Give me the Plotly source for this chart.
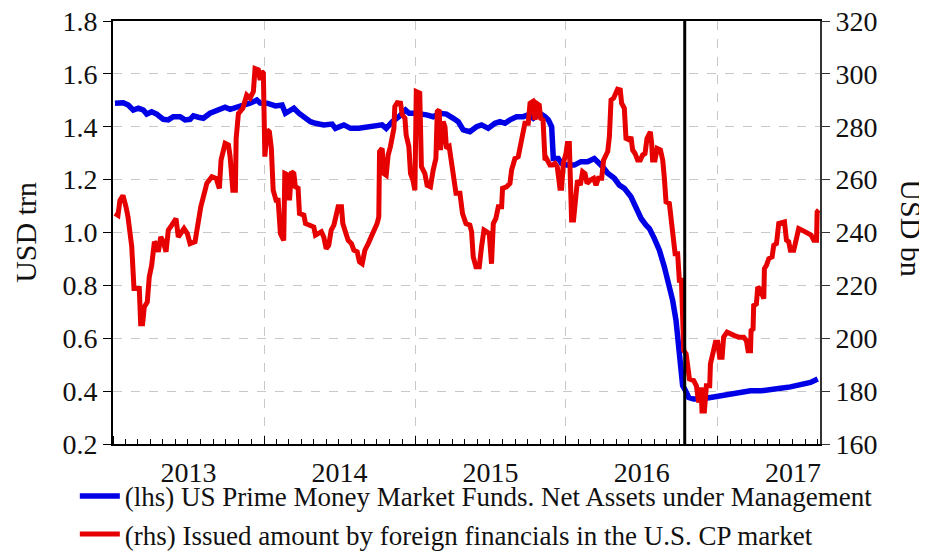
import pandas as pd
import plotly.graph_objects as go

# positions given as decimal years, values per series
blue_t = [2013.013, 2013.068, 2013.101, 2013.134, 2013.168, 2013.201, 2013.223, 2013.256, 2013.289, 2013.333,
          2013.366, 2013.399, 2013.444, 2013.477, 2013.510, 2013.532, 2013.565, 2013.598, 2013.642, 2013.687,
          2013.742, 2013.775, 2013.819, 2013.863, 2013.907, 2013.952, 2013.974, 2014.020, 2014.075, 2014.119,
          2014.141, 2014.197, 2014.230, 2014.263, 2014.307, 2014.340, 2014.395, 2014.450, 2014.472, 2014.528,
          2014.572, 2014.627, 2014.693, 2014.737, 2014.781, 2014.808, 2014.848, 2014.892, 2014.936, 2014.960,
          2015.002, 2015.075, 2015.119, 2015.164, 2015.207, 2015.252, 2015.285, 2015.318, 2015.362, 2015.406,
          2015.439, 2015.483, 2015.528, 2015.561, 2015.594, 2015.627, 2015.671, 2015.715, 2015.748, 2015.781,
          2015.826, 2015.859, 2015.881, 2015.903, 2015.914, 2015.947, 2015.969, 2016.002, 2016.053, 2016.097,
          2016.141, 2016.185, 2016.207, 2016.240, 2016.274, 2016.318, 2016.351, 2016.384, 2016.428, 2016.462,
          2016.495, 2016.528, 2016.550, 2016.583, 2016.616, 2016.649, 2016.682, 2016.704, 2016.726, 2016.742,
          2016.760, 2016.770, 2016.786, 2016.810, 2016.843, 2016.887, 2016.954, 2017.020, 2017.086, 2017.152,
          2017.219, 2017.285, 2017.351, 2017.417, 2017.483, 2017.550, 2017.616, 2017.664]
blue_v = [1.489, 1.491, 1.482, 1.463, 1.470, 1.463, 1.448, 1.457, 1.448, 1.428,
          1.426, 1.438, 1.438, 1.426, 1.428, 1.441, 1.436, 1.432, 1.451, 1.461,
          1.474, 1.466, 1.476, 1.482, 1.489, 1.501, 1.490, 1.489, 1.479, 1.482,
          1.451, 1.470, 1.451, 1.438, 1.419, 1.413, 1.407, 1.410, 1.394, 1.407,
          1.394, 1.394, 1.400, 1.400, 1.407, 1.394, 1.419, 1.438, 1.463, 1.451,
          1.451, 1.445, 1.438, 1.451, 1.448, 1.432, 1.419, 1.388, 1.381, 1.400,
          1.407, 1.394, 1.413, 1.419, 1.413, 1.426, 1.438, 1.438, 1.445, 1.432,
          1.451, 1.438, 1.426, 1.400, 1.280, 1.280, 1.261, 1.255, 1.255, 1.268,
          1.268, 1.280, 1.268, 1.249, 1.224, 1.205, 1.179, 1.167, 1.135, 1.097,
          1.053, 1.028, 1.015, 0.977, 0.933, 0.870, 0.794, 0.743, 0.668, 0.579,
          0.491, 0.421, 0.405, 0.376, 0.370, 0.370, 0.376, 0.382, 0.391, 0.399,
          0.401, 0.401, 0.408, 0.411, 0.416, 0.424, 0.433, 0.446]

red_t = [2013.013, 2013.033, 2013.046, 2013.066, 2013.086, 2013.099, 2013.124, 2013.139, 2013.174, 2013.183,
         2013.196, 2013.207, 2013.227, 2013.240, 2013.256, 2013.274, 2013.289, 2013.300, 2013.316, 2013.333,
         2013.351, 2013.366, 2013.389, 2013.417, 2013.432, 2013.470, 2013.492, 2013.510, 2013.543, 2013.558,
         2013.581, 2013.598, 2013.621, 2013.654, 2013.682, 2013.704, 2013.715, 2013.742, 2013.764, 2013.775,
         2013.793, 2013.810, 2013.815, 2013.830, 2013.859, 2013.885, 2013.907, 2013.929, 2013.940, 2013.962,
         2013.974, 2013.985, 2013.995, 2014.005, 2014.020, 2014.035, 2014.048, 2014.060, 2014.079, 2014.093,
         2014.108, 2014.130, 2014.137, 2014.159, 2014.168, 2014.181, 2014.197, 2014.207, 2014.225, 2014.234,
         2014.263, 2014.274, 2014.307, 2014.329, 2014.340, 2014.362, 2014.379, 2014.395, 2014.411, 2014.428,
         2014.444, 2014.462, 2014.477, 2014.490, 2014.512, 2014.521, 2014.538, 2014.556, 2014.578, 2014.594,
         2014.616, 2014.631, 2014.649, 2014.667, 2014.689, 2014.704, 2014.726, 2014.748, 2014.759, 2014.764,
         2014.781, 2014.793, 2014.808, 2014.821, 2014.836, 2014.848, 2014.859, 2014.865, 2014.881, 2014.903,
         2014.914, 2014.932, 2014.940, 2014.958, 2014.969, 2014.985, 2014.998, 2015.007, 2015.030, 2015.041,
         2015.064, 2015.079, 2015.101, 2015.119, 2015.137, 2015.146, 2015.159, 2015.167, 2015.185, 2015.197,
         2015.207, 2015.225, 2015.247, 2015.270, 2015.296, 2015.313, 2015.336, 2015.362, 2015.373, 2015.384,
         2015.402, 2015.424, 2015.439, 2015.455, 2015.472, 2015.490, 2015.505, 2015.517, 2015.534, 2015.550,
         2015.572, 2015.578, 2015.605, 2015.627, 2015.638, 2015.660, 2015.682, 2015.693, 2015.711, 2015.726,
         2015.748, 2015.760, 2015.777, 2015.793, 2015.803, 2015.821, 2015.830, 2015.846, 2015.859, 2015.869,
         2015.892, 2015.909, 2015.925, 2015.940, 2015.958, 2015.969, 2015.980, 2015.998, 2016.007, 2016.020,
         2016.035, 2016.048, 2016.064, 2016.074, 2016.093, 2016.108, 2016.124, 2016.137, 2016.159, 2016.181,
         2016.197, 2016.212, 2016.234, 2016.247, 2016.263, 2016.274, 2016.285, 2016.296, 2016.313, 2016.329,
         2016.339, 2016.357, 2016.366, 2016.384, 2016.395, 2016.417, 2016.428, 2016.439, 2016.455, 2016.472,
         2016.490, 2016.505, 2016.521, 2016.534, 2016.556, 2016.565, 2016.571, 2016.587, 2016.601, 2016.623,
         2016.638, 2016.649, 2016.660, 2016.682, 2016.693, 2016.711, 2016.720, 2016.737, 2016.748, 2016.762,
         2016.770, 2016.777, 2016.793, 2016.803, 2016.815, 2016.843, 2016.861, 2016.876, 2016.892, 2016.898,
         2016.914, 2016.927, 2016.949, 2016.954, 2016.971, 2016.987, 2017.002, 2017.015, 2017.031, 2017.041,
         2017.064, 2017.086, 2017.113, 2017.141, 2017.174, 2017.192, 2017.203, 2017.219, 2017.223, 2017.236,
         2017.240, 2017.258, 2017.267, 2017.280, 2017.296, 2017.307, 2017.311, 2017.325, 2017.340, 2017.362,
         2017.373, 2017.391, 2017.406, 2017.428, 2017.444, 2017.457, 2017.472, 2017.483, 2017.505, 2017.523,
         2017.538, 2017.560, 2017.583, 2017.605, 2017.620, 2017.638, 2017.656, 2017.660, 2017.671]
red_v = [247.2, 246.5, 252.2, 254.0, 249.7, 246.0, 234.6, 218.8, 218.8, 205.5,
         205.5, 211.8, 213.7, 223.2, 227.6, 236.5, 235.2, 232.7, 238.3, 236.5,
         232.7, 240.9, 242.8, 245.3, 238.3, 241.5, 239.6, 235.8, 236.5, 242.8,
         249.7, 253.5, 258.6, 261.1, 260.5, 256.7, 267.4, 273.7, 273.1, 268.7,
         256.0, 256.0, 275.6, 285.0, 287.0, 292.0, 290.8, 293.3, 302.0, 301.5,
         297.7, 301.0, 300.3, 268.7, 278.8, 278.0, 271.8, 256.0, 252.2, 252.2,
         239.6, 237.0, 262.3, 261.7, 252.2, 263.0, 262.3, 257.3, 256.7, 247.2,
         246.6, 243.4, 242.8, 242.1, 239.0, 239.6, 240.3, 238.3, 233.9, 235.2,
         240.9, 242.8, 246.6, 249.7, 249.7, 243.4, 240.3, 237.1, 235.8, 233.3,
         232.7, 228.9, 228.2, 233.3, 235.8, 237.7, 239.6, 243.4, 245.9, 270.6,
         271.8, 262.3, 261.7, 269.3, 272.5, 277.5, 279.4, 287.6, 289.1, 288.9,
         284.5, 283.2, 276.9, 272.5, 262.3, 259.8, 256.0, 293.3, 292.7, 264.9,
         262.3, 257.9, 257.3, 263.6, 268.0, 285.7, 286.4, 271.2, 282.0, 280.0,
         271.8, 272.5, 264.9, 254.8, 254.8, 247.2, 243.4, 242.8, 240.3, 230.8,
         227.0, 227.0, 234.6, 240.9, 240.3, 239.6, 228.2, 243.4, 245.3, 249.7,
         249.7, 256.7, 257.3, 258.6, 263.6, 268.0, 268.7, 271.8, 275.0, 281.3,
         281.3, 288.9, 289.5, 282.6, 288.9, 288.2, 283.2, 282.6, 267.4, 268.0,
         265.5, 265.5, 266.1, 264.9, 256.7, 256.7, 266.1, 269.9, 273.7, 273.7,
         244.7, 244.7, 254.1, 259.8, 257.9, 263.0, 262.3, 258.6, 259.8, 260.5,
         257.9, 260.5, 260.5, 267.4, 269.3, 270.6, 276.2, 290.1, 290.8, 292.7,
         294.2, 293.9, 288.9, 287.0, 275.6, 275.0, 276.2, 271.2, 269.9, 267.4,
         267.4, 269.3, 269.9, 275.6, 278.1, 273.7, 267.4, 267.4, 271.8, 271.2,
         267.4, 260.5, 251.6, 251.0, 246.0, 239.6, 232.0, 232.0, 221.9, 221.9,
         211.8, 195.4, 194.1, 190.3, 184.6, 184.0, 182.0, 175.7, 181.4, 172.5,
         172.5, 182.0, 182.0, 190.3, 194.0, 198.5, 198.5, 192.8, 192.8, 200.4,
         202.3, 201.6, 201.0, 200.4, 200.4, 199.1, 195.3, 195.3, 202.9, 203.5,
         212.4, 213.0, 219.4, 218.7, 215.6, 215.0, 226.3, 227.6, 230.1, 230.8,
         235.2, 235.8, 243.4, 244.0, 244.0, 237.1, 236.5, 233.3, 233.3, 237.7,
         241.5, 240.9, 240.3, 239.6, 239.0, 237.1, 237.1, 247.8, 248.5]

reform_date = "2016-10-14"
x_start, x_end = "2013-01-01", "2017-09-06"


def to_dates(years):
    start = pd.Timestamp("2013-01-01")
    return [start + pd.Timedelta(days=(y - 2013) * 365.25) for y in years]


FONT = "Liberation Serif"

fig = go.Figure()
fig.add_trace(go.Scatter(x=to_dates(blue_t), y=blue_v, mode="lines",
                         name="(lhs) US Prime Money Market Funds. Net Assets under Management",
                         line=dict(color="#0000e6", width=5.5)))
fig.add_trace(go.Scatter(x=to_dates(red_t), y=red_v, mode="lines", yaxis="y2",
                         name="(rhs) Issued amount by foreign financials in the U.S. CP market",
                         line=dict(color="#e60000", width=5)))

fig.add_shape(type="line", xref="x", yref="paper", x0=reform_date, x1=reform_date, y0=0, y1=1,
              line=dict(color="black", width=3))

grid = dict(showgrid=True, gridcolor="#c8c8c8", griddash="dash", gridwidth=1)

# page body has an 8px margin, so the figure is a bit smaller than the window
fig.update_layout(
    width=919, height=544,
    margin=dict(l=105, r=107, t=13, b=108, autoexpand=False),
    plot_bgcolor="white", paper_bgcolor="white",
    font=dict(family=FONT, size=28, color="#111111"),
    showlegend=True,
    legend=dict(x=-0.054, y=-0.066, xanchor="left", yanchor="top", orientation="v",
                font=dict(family=FONT, size=27), bgcolor="rgba(0,0,0,0)", itemwidth=40),
    xaxis=dict(type="date", range=[x_start, x_end], dtick="M12", tick0="2013-01-01",
               ticklabelmode="period", tickformat="%Y", ticks="inside", ticklen=8,
               ticklabelstandoff=2,
               tickcolor="black", showline=True, linecolor="black", linewidth=2, mirror=True,
               automargin=False,
               minor=dict(dtick="M1", ticks="inside", ticklen=5, tickcolor="black", showgrid=False),
               **grid),
    yaxis=dict(range=[0.2, 1.8], dtick=0.2, tickformat=".1f", ticks="outside", ticklen=8,
               tickcolor="black", showline=True, linecolor="black", linewidth=2, zeroline=False,
               automargin=False, ticklabeloverflow="allow", **grid),
    yaxis2=dict(range=[160, 320], dtick=20, overlaying="y", side="right", ticks="outside",
                ticklen=8, tickcolor="#333333", showline=True, linecolor="#333333", linewidth=2,
                showgrid=False, zeroline=False, automargin=False, ticklabeloverflow="allow"),
)

fig.add_annotation(text="USD trn", xref="paper", yref="paper", x=-0.124, y=0.5, textangle=-90,
                   xanchor="center", yanchor="middle", showarrow=False,
                   font=dict(family=FONT, size=30))
fig.add_annotation(text="USD bn", xref="paper", yref="paper", x=1.13, y=0.51, textangle=90,
                   xanchor="center", yanchor="middle", showarrow=False,
                   font=dict(family=FONT, size=30))

fig.write_html("out.html")
